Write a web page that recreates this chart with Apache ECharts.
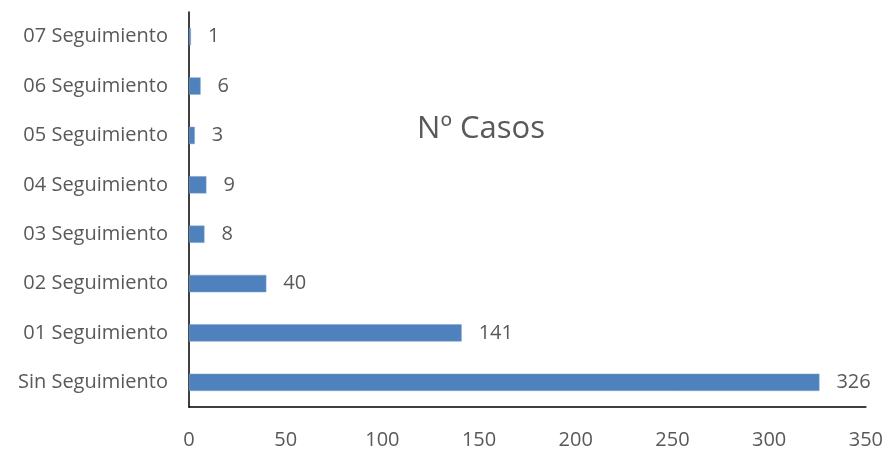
<!DOCTYPE html>
<html>
<head>
<meta charset="utf-8">
<script src="https://cdn.jsdelivr.net/npm/echarts@6/dist/echarts.min.js"></script>
<style>
  html, body { margin: 0; padding: 0; background: #ffffff; }
  #chart { width: 886px; height: 450px; }
</style>
</head>
<body>
<div id="chart"></div>
<script>
// Follow-up stages, bottom to top
const categories = [
  'Sin Seguimiento', '01 Seguimiento', '02 Seguimiento', '03 Seguimiento',
  '04 Seguimiento', '05 Seguimiento', '06 Seguimiento', '07 Seguimiento'
];
// Number of cases per stage
const casos = [326, 141, 40, 8, 9, 3, 6, 1];
const xTicks = { min: 0, max: 350, interval: 50 };

const textColor = '#595959';
const fontFamily = '"Open Sans", "Liberation Sans", sans-serif';

const chart = echarts.init(document.getElementById('chart'), null, { renderer: 'canvas' });
chart.setOption({
  animation: false,
  backgroundColor: '#ffffff',
  title: {
    text: 'Nº Casos',
    left: 476,
    top: 109,
    textAlign: 'center',
    textStyle: { color: textColor, fontSize: 31, fontWeight: 'normal', fontFamily: fontFamily }
  },
  grid: { left: 189, right: 20, top: 12, bottom: 43, containLabel: false },
  xAxis: {
    type: 'value',
    min: xTicks.min,
    max: xTicks.max,
    interval: xTicks.interval,
    axisLine: { show: true, lineStyle: { color: '#000000', width: 1.5 } },
    axisTick: { show: false },
    splitLine: { show: false },
    axisLabel: { color: textColor, fontSize: 20, fontFamily: fontFamily, margin: 23 }
  },
  yAxis: {
    type: 'category',
    data: categories,
    axisLine: { show: true, lineStyle: { color: '#000000', width: 1.5 } },
    axisTick: { show: false },
    splitLine: { show: false },
    axisLabel: { color: textColor, fontSize: 20, fontFamily: fontFamily, margin: 21 }
  },
  series: [{
    type: 'bar',
    data: casos,
    barWidth: '35%',
    itemStyle: { color: '#4F81BD', borderColor: '#7FA3D3', borderWidth: 0.5 },
    label: {
      show: true,
      position: 'right',
      distance: 17,
      color: textColor,
      fontSize: 20,
      fontFamily: fontFamily
    }
  }]
});
</script>
</body>
</html>
